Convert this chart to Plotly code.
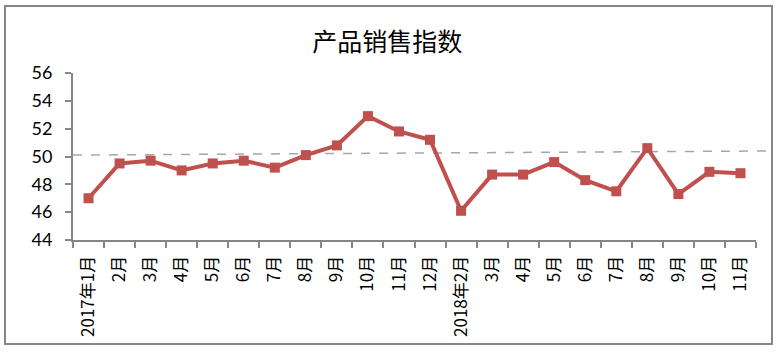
import plotly.graph_objects as go

months = ["2017年1月", "2月", "3月", "4月", "5月", "6月", "7月", "8月", "9月", "10月", "11月", "12月",
          "2018年2月", "3月", "4月", "5月", "6月", "7月", "8月", "9月", "10月", "11月"]
# unique category keys (labels repeat), displayed with ticktext
keys = [f"c{i}" for i in range(len(months))]
sales_index = [47.0, 49.5, 49.7, 49.0, 49.5, 49.7, 49.2, 50.1, 50.8, 52.9, 51.8, 51.2,
               46.1, 48.7, 48.7, 49.6, 48.3, 47.5, 50.6, 47.3, 48.9, 48.8]
trend_start, trend_end = 50.1, 50.4
y_ticks = [44, 46, 48, 50, 52, 54, 56]

RED = "#C0504D"
GREY = "#868686"

fig = go.Figure()
fig.add_trace(go.Scatter(
    x=keys, y=sales_index, mode="lines+markers",
    line=dict(color=RED, width=4),
    marker=dict(symbol="square", size=10, color=RED),
    cliponaxis=False, showlegend=False,
))

# dashed reference/trend line spanning from y-axis to the chart border
fig.add_shape(type="line", xref="x domain", yref="y",
              x0=0, x1=1.0234, y0=trend_start, y1=trend_end,
              line=dict(color="#A6A6A6", width=1.5, dash="dash"), layer="below")

# chart outer border
fig.add_shape(type="rect", xref="paper", yref="paper",
              x0=-0.0996, x1=1.0234, y0=-0.623, y1=1.401,
              line=dict(color=GREY, width=2), fillcolor="rgba(0,0,0,0)")

fig.update_layout(
    width=779, height=352,
    margin=dict(l=73, r=23, t=73, b=112),
    paper_bgcolor="white", plot_bgcolor="white",
    title=dict(text="产品销售指数", x=0.497, xref="container", xanchor="center",
               y=0.88, yref="container", yanchor="middle",
               font=dict(family="Noto Sans CJK SC", size=25, color="#000000")),
    xaxis=dict(type="category", tickmode="array", tickvals=keys, ticktext=months,
               tickangle=-90, tickson="boundaries", ticks="outside", ticklen=6,
               tickcolor=GREY, tickwidth=2, showline=True, linecolor=GREY, linewidth=2,
               showgrid=False, zeroline=False, ticklabelstandoff=7,
               tickfont=dict(family="Noto Sans CJK SC, Lato", size=17, color="#000000"),
               range=[-0.5, len(keys) - 0.5]),
    yaxis=dict(range=[44, 56], tickvals=y_ticks, ticks="outside", ticklen=6,
               tickcolor=GREY, tickwidth=2, showline=True, linecolor=GREY, linewidth=2,
               showgrid=False, zeroline=False, ticklabelstandoff=9,
               tickfont=dict(family="Lato", size=18, color="#000000")),
)

fig.write_html("out.html")
